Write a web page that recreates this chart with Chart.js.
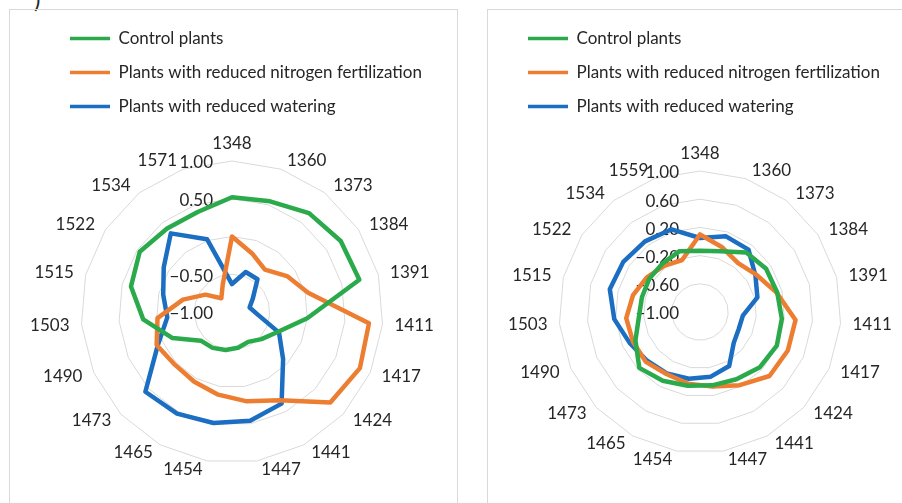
<!DOCTYPE html>
<html>
<head>
<meta charset="utf-8">
<script src="https://cdn.jsdelivr.net/npm/chart.js@4.4.0/dist/chart.umd.min.js"></script>
<style>
    body { margin: 0; width: 902px; height: 503px; background: #fff; position: relative; overflow: hidden; font-family: Lato, sans-serif; }
    .panel { position: absolute; border: 1px solid #d9d9d9; box-sizing: border-box; }
    .chart-box { position: absolute; }
    #tag { position: absolute; left: 34px; top: -13px; font-size: 24px; line-height: 24px; color: #262626; }
</style>
</head>
<body>
<div id="tag">)</div>
<div class="panel" style="left:9px; top:9px; width:449px; height:520px;"></div>
<div class="panel" style="left:487px; top:9px; width:450px; height:520px;"></div>
<div class="chart-box" style="left:10px; top:10px;"><canvas id="radar-left" width="447" height="493"></canvas></div>
<div class="chart-box" style="left:488px; top:10px;"><canvas id="radar-right" width="414" height="493"></canvas></div>

<script>
// Wavenumber categories (spokes)
const labelsLeft = ['1348', '1360', '1373', '1384', '1391', '1411', '1417', '1424', '1441', '1447',
                    '1454', '1465', '1473', '1490', '1503', '1515', '1522', '1534', '1571'];
const labelsRight = ['1348', '1360', '1373', '1384', '1391', '1411', '1417', '1424', '1441', '1447',
                     '1454', '1465', '1473', '1490', '1503', '1515', '1522', '1534', '1559'];

const seriesNames = ['Control plants', 'Plants with reduced nitrogen fertilization', 'Plants with reduced watering'];
const seriesColors = ['#2aaa4a', '#ed7d31', '#1b6ec2'];

// Left radar values
const controlLeft   = [0.52, 0.55, 0.66, 0.72, 0.74, 0.00, -0.34, -0.47, -0.55, -0.52,
                       -0.49, -0.46, -0.44, -0.14, 0.18, 0.38, 0.46, 0.40, 0.40];
const nitrogenLeft  = [0.00, -0.18, -0.29, -0.13, 0.04, 0.82, 0.85, 0.77, 0.33, 0.20,
                       0.11, 0.05, 0.03, 0.09, -0.01, -0.33, -0.58, -0.77, -0.62];
const wateringLeft  = [-0.63, -0.44, -0.45, -0.67, -0.76, -0.665, -0.32, -0.08, 0.38, 0.46,
                       0.49, 0.53, 0.56, 0.07, -0.14, -0.06, 0.08, 0.32, 0.02];

// Right radar values
const controlRight  = [-0.13, -0.09, 0.07, 0.12, 0.13, 0.165, 0.19, 0.155, 0.085, 0.055,
                       0.06, 0.11, 0.17, 0.00, -0.13, -0.15, -0.14, -0.13, -0.09];
const nitrogenRight = [0.10, -0.03, -0.12, -0.04, 0.12, 0.36, 0.36, 0.34, 0.18, 0.07,
                       0.03, 0.00, 0.045, 0.04, 0.05, -0.02, -0.10, -0.17, -0.22];
const wateringRight = [0.05, 0.135, 0.12, -0.06, -0.16, -0.39, -0.40, -0.35, -0.13, -0.07,
                       -0.04, -0.01, 0.02, 0.09, 0.22, 0.32, 0.30, 0.27, 0.24];

// Axis ranges / tick steps
const axisMin = -1;
const axisMax = 1;
const stepLeft = 0.5;
const stepRight = 0.4;

const textColor = '#262626';
const gridColor = '#d9d9d9';
const labelFont = '17px Lato';

// Value labels left of the vertical axis + category labels around the web,
// placed Excel-style (vertically centred, hugging the outer ring)
const radarText = {
    id: 'radarText',
    beforeDatasetsDraw(chart, args, opts) {
        const scale = chart.scales.r;
        const ctx = chart.ctx;
        ctx.save();
        ctx.font = labelFont;
        ctx.fillStyle = textColor;

        // value ticks
        ctx.textAlign = 'right';
        ctx.textBaseline = 'middle';
        scale.ticks.forEach(function(tick) {
            const v = tick.value;
            if (opts.hideZero && Math.abs(v) < 1e-9) return;
            const d = scale.getDistanceFromCenterForValue(v);
            const txt = (v < -1e-9 ? '\u2212' : '') + Math.abs(v).toFixed(2);
            ctx.fillText(txt, scale.xCenter + opts.tickDx, scale.yCenter - d + 2);
        });

        // category labels
        const n = chart.data.labels.length;
        chart.data.labels.forEach(function(lbl, i) {
            const pos = scale.getPointPosition(i, scale.drawingArea + 9);
            const deg = scale.getIndexAngle(i) * 180 / Math.PI;
            let x = pos.x;
            if (deg < 1 || deg > 359) {
                ctx.textAlign = 'center';
                ctx.textBaseline = 'bottom';
            } else if (deg < 180) {
                ctx.textAlign = 'left';
                ctx.textBaseline = 'middle';
                x += 3;
            } else {
                ctx.textAlign = 'right';
                ctx.textBaseline = 'middle';
                x -= 3;
            }
            ctx.fillText(lbl, x, pos.y);
        });
        ctx.restore();
    }
};

// Extra space under the legend and a horizontal offset for it
const legendTweak = {
    id: 'legendTweak',
    beforeLayout(chart, args, opts) {
        const legend = chart.legend;
        if (!legend || legend._tweaked) return;
        const baseFit = legend.fit;
        legend.fit = function() {
            baseFit.call(this);
            this.height += opts.extraHeight || 0;
        };
        legend._tweaked = true;
    },
    afterLayout(chart, args, opts) {
        chart.legend.left += opts.shiftX || 0;
        chart.legend.right += opts.shiftX || 0;
    }
};

function makeDatasets(values) {
    return values.map(function(vals, i) {
        return {
            label: seriesNames[i],
            data: vals,
            borderColor: seriesColors[i],
            backgroundColor: seriesColors[i],
            borderWidth: 4.5,
            borderJoinStyle: 'round',
            pointRadius: 0,
            fill: false,
            tension: 0
        };
    });
}

function initRadar(canvasId, labels, values, step, cfg) {
    const ctx = document.getElementById(canvasId);
    if (!ctx) return;
    new Chart(ctx, {
        type: 'radar',
        data: {
            labels: labels,
            datasets: makeDatasets(values)
        },
        options: {
            responsive: false,
            animation: false,
            layout: { padding: cfg.padding },
            plugins: {
                legend: {
                    position: 'top',
                    align: 'start',
                    labels: {
                        usePointStyle: true,
                        pointStyle: 'line',
                        pointStyleWidth: 40,
                        padding: 17,
                        color: textColor,
                        font: { family: 'Lato', size: 17 },
                        generateLabels: function(chart) {
                            const items = Chart.defaults.plugins.legend.labels.generateLabels(chart);
                            items.forEach(function(it) { it.lineWidth = 3.5; });
                            return items;
                        }
                    }
                },
                tooltip: { enabled: false },
                legendTweak: { extraHeight: cfg.extraHeight, shiftX: cfg.shiftX },
                radarText: { tickDx: cfg.tickDx, hideZero: cfg.hideZero }
            },
            scales: {
                r: {
                    min: axisMin,
                    max: axisMax,
                    beginAtZero: false,
                    ticks: { display: false, stepSize: step },
                    grid: { color: gridColor, lineWidth: 1, circular: false },
                    angleLines: { display: false },
                    pointLabels: { display: false }
                }
            }
        },
        plugins: [legendTweak, radarText]
    });
}

initRadar('radar-left', labelsLeft, [controlLeft, nitrogenLeft, wateringLeft], stepLeft, {
    padding: { top: 3, left: 0, right: 3, bottom: 39 },
    extraHeight: 36,
    shiftX: 43,
    tickDx: -19,
    hideZero: true
});

initRadar('radar-right', labelsRight, [controlRight, nitrogenRight, wateringRight], stepRight, {
    padding: { top: 3, left: 10, right: 0, bottom: 49 },
    extraHeight: 46,
    shiftX: 13,
    tickDx: -21,
    hideZero: false
});
</script>
</body>
</html>
